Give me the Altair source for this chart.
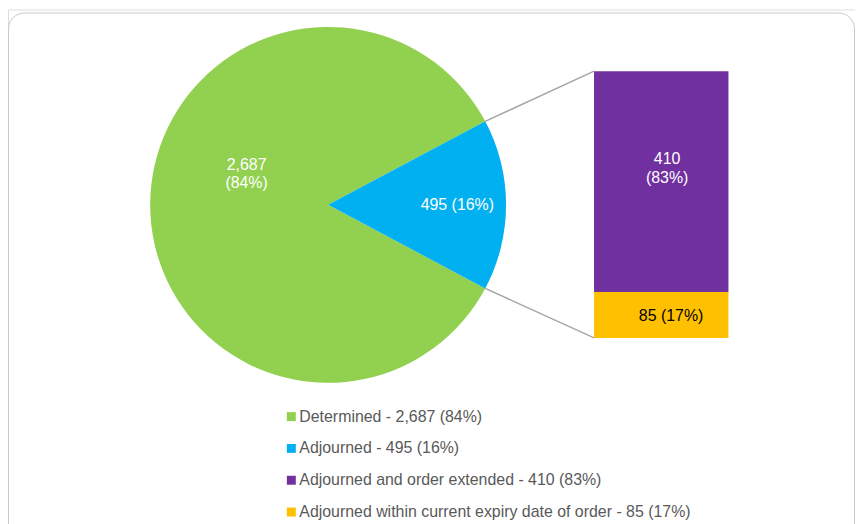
import math
import altair as alt
import pandas as pd

# ---- data ----
main_categories = ["Determined", "Adjourned"]
main_values = [2687, 495]
main_pcts = [84, 16]
sub_categories = ["Adjourned and order extended",
                  "Adjourned within current expiry date of order"]
sub_values = [410, 85]
sub_pcts = [83, 17]
colors = ["#92D050", "#00B0F0", "#7030A0", "#FFC000"]

FONT = "Liberation Sans"

# ---- layout (pixels, chart coordinates) ----
W, H = 852, 516
CX, CY, R = 322, 196.5, 179
BX0, BX1 = 589.5, 724.7
BY_TOP, BY_BOT = 62, 330.3


def legend_label(c, v, p):
    return f"{c} - {v:,} ({p}%)"


main_labels = [legend_label(c, v, p) for c, v, p in zip(main_categories, main_values, main_pcts)]
sub_labels = [legend_label(c, v, p) for c, v, p in zip(sub_categories, sub_values, sub_pcts)]
all_labels = main_labels + sub_labels

pie_df = pd.DataFrame({"label": main_labels, "value": main_values, "ord": [1, 0]})
bar_df = pd.DataFrame({"label": sub_labels, "value": sub_values, "ord": [1, 0]})

total = sum(main_values)
frac = main_values[1] / total
start = math.pi / 2 - math.pi * frac
end_blue = start + 2 * math.pi * frac

color_enc = alt.Color(
    "label:N",
    scale=alt.Scale(domain=all_labels, range=colors),
    legend=alt.Legend(
        title=None, orient="none", legendX=277, legendY=401.5, direction="vertical",
        symbolType="square", symbolSize=81, symbolStrokeWidth=0,
        labelFontSize=16, labelColor="#595959", labelFont=FONT, labelLimit=800,
        labelOffset=0, rowPadding=16, padding=0,
    ),
)

border = alt.Chart(pd.DataFrame({"a": [0]})).mark_rect(
    fill="white", stroke="#C9C9C9", strokeWidth=1, cornerRadius=16
).encode(x=alt.value(0.5), x2=alt.value(W - 0.5), y=alt.value(3.5), y2=alt.value(H + 40))

pie = alt.Chart(pie_df).mark_arc(outerRadius=R).encode(
    theta=alt.Theta("value:Q", stack=True,
                    scale=alt.Scale(range=[start, start + 2 * math.pi])),
    order=alt.Order("ord:Q"),
    color=color_enc,
    x=alt.value(CX), y=alt.value(CY),
)

bar = alt.Chart(bar_df).transform_stack(
    stack="value", as_=["v0", "v1"], groupby=[],
    sort=[alt.SortField("ord", order="ascending")],
).mark_rect().encode(
    x=alt.value(BX0), x2=alt.value(BX1),
    y=alt.Y("v0:Q", axis=None,
            scale=alt.Scale(domain=[0, sum(sub_values)], range=[BY_BOT, BY_TOP])),
    y2="v1:Q",
    color=color_enc,
)


def edge(theta):
    return CX + R * math.sin(theta), CY - R * math.cos(theta)


p1 = edge(start)
p2 = edge(end_blue)
one = pd.DataFrame({"a": [0]})
conn1 = alt.Chart(one).mark_rule(color="#A6A6A6", strokeWidth=1.5).encode(
    x=alt.value(p1[0]), y=alt.value(p1[1]), x2=alt.value(BX0), y2=alt.value(BY_TOP))
conn2 = alt.Chart(one).mark_rule(color="#A6A6A6", strokeWidth=1.5).encode(
    x=alt.value(p2[0]), y=alt.value(p2[1]), x2=alt.value(BX0), y2=alt.value(BY_BOT))


def text_layer(txt, x, y, color):
    return alt.Chart(pd.DataFrame({"t": [txt]})).mark_text(
        color=color, fontSize=16, font=FONT, lineBreak="\n", lineHeight=19,
        align="center", baseline="middle"
    ).encode(x=alt.value(x), y=alt.value(y), text="t:N")


t1 = text_layer(f"{main_values[0]:,}\n({main_pcts[0]}%)", 240, 156, "white")
t2 = text_layer(f"{main_values[1]:,} ({main_pcts[1]}%)", 452, 197, "white")
t3 = text_layer(f"{sub_values[0]:,}\n({sub_pcts[0]}%)", 663, 150.5, "white")
t4 = text_layer(f"{sub_values[1]:,} ({sub_pcts[1]}%)", 667, 308.5, "black")

chart = alt.layer(border, conn1, conn2, pie, bar, t1, t2, t3, t4).properties(
    width=W, height=H, padding=0,
    autosize=alt.AutoSizeParams(type="none"),
    background="white",
).configure_view(stroke=None).configure(font=FONT)

chart.save("out.html", embed_options={"renderer": "svg", "actions": False})
